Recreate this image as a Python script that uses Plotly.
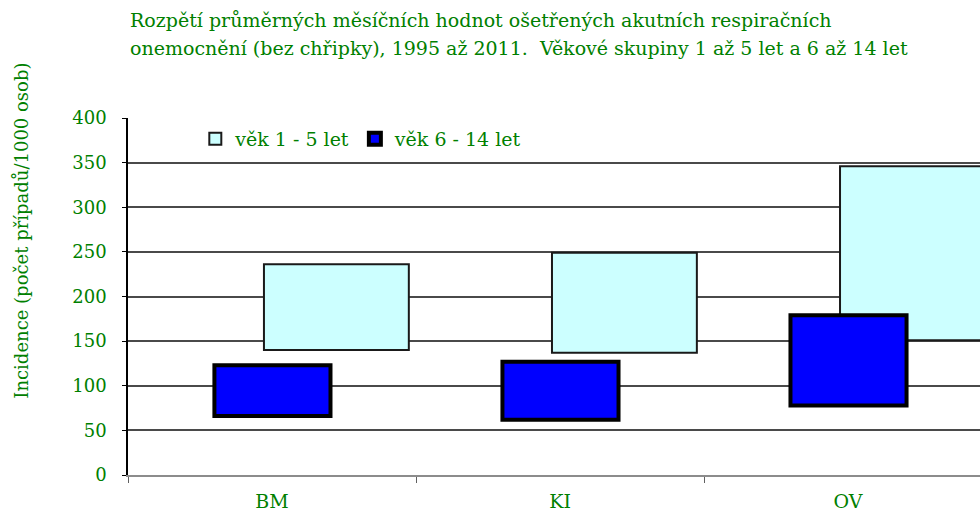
import plotly.graph_objects as go

categories = ["BM", "KI", "OV"]
age_1_5_low = [140, 137, 151]
age_1_5_high = [236, 249, 346]
age_6_14_low = [66, 62, 78]
age_6_14_high = [123, 127, 179]
series_names = ["věk 1 - 5 let", "věk 6 - 14 let"]
title_lines = [
    "Rozpětí průměrných měsíčních hodnot ošetřených akutních respiračních",
    "onemocnění (bez chřipky), 1995 až 2011.  Věkové skupiny 1 až 5 let a 6 až 14 let",
]
y_title = "Incidence (počet případů/1000 osob)"
y_ticks = [0, 50, 100, 150, 200, 250, 300, 350, 400]

GREEN = "#008000"
FONT = "DejaVu Serif"

fig = go.Figure()
fig.add_trace(go.Bar(
    x=categories,
    y=[h - l for l, h in zip(age_1_5_low, age_1_5_high)],
    base=age_1_5_low,
    name=series_names[0],
    width=0.503, offset=-0.028,
    marker=dict(color="#CCFFFF", line=dict(color="#1a1a1a", width=2)),
))
fig.add_trace(go.Bar(
    x=categories,
    y=[h - l for l, h in zip(age_6_14_low, age_6_14_high)],
    base=age_6_14_low,
    name=series_names[1],
    width=0.403, offset=-0.2,
    marker=dict(color="#0000FF", line=dict(color="#000000", width=4)),
))

fig.update_layout(
    width=980, height=513,
    margin=dict(l=128, r=0, t=118, b=38),
    paper_bgcolor="white", plot_bgcolor="white",
    barmode="overlay",
    font=dict(family=FONT, color=GREEN, size=18),
    showlegend=True,
    legend=dict(orientation="h", x=0.079, y=0.995, xanchor="left", yanchor="top",
                font=dict(size=19, color=GREEN), bgcolor="rgba(0,0,0,0)",
                itemwidth=30, tracegroupgap=0),
    xaxis=dict(type="category", range=[-0.5, 2.458], showgrid=False,
               showline=True, linecolor="#8c8c8c", linewidth=2,
               ticks="outside", tickson="boundaries", ticklen=6, tickcolor="#606060",
               ticklabelstandoff=8,
               tickfont=dict(size=19, color=GREEN)),
    yaxis=dict(range=[0, 400], tickvals=y_ticks, showgrid=True, gridcolor="#4a4a4a",
               gridwidth=1.5, showline=True, linecolor="#000000", linewidth=1.5,
               ticks="outside", ticklen=4, tickcolor="#000000", zeroline=False,
               ticklabelstandoff=12,
               tickfont=dict(size=18, color=GREEN)),
    annotations=[
        dict(text=title_lines[0], xref="paper", yref="paper", x=0, y=1.275,
             xanchor="left", yanchor="middle", showarrow=False,
             font=dict(size=19, color=GREEN, family=FONT)),
        dict(text=title_lines[1], xref="paper", yref="paper", x=0, y=1.197,
             xanchor="left", yanchor="middle", showarrow=False,
             font=dict(size=19, color=GREEN, family=FONT)),
        dict(text=y_title, xref="paper", yref="paper", x=-0.125, y=0.683,
             xanchor="center", yanchor="middle", textangle=-90, showarrow=False,
             font=dict(size=18, color=GREEN, family=FONT)),
    ],
)

fig.write_html("out.html", config={"displayModeBar": False},
               post_script="document.body.style.margin='0';")
